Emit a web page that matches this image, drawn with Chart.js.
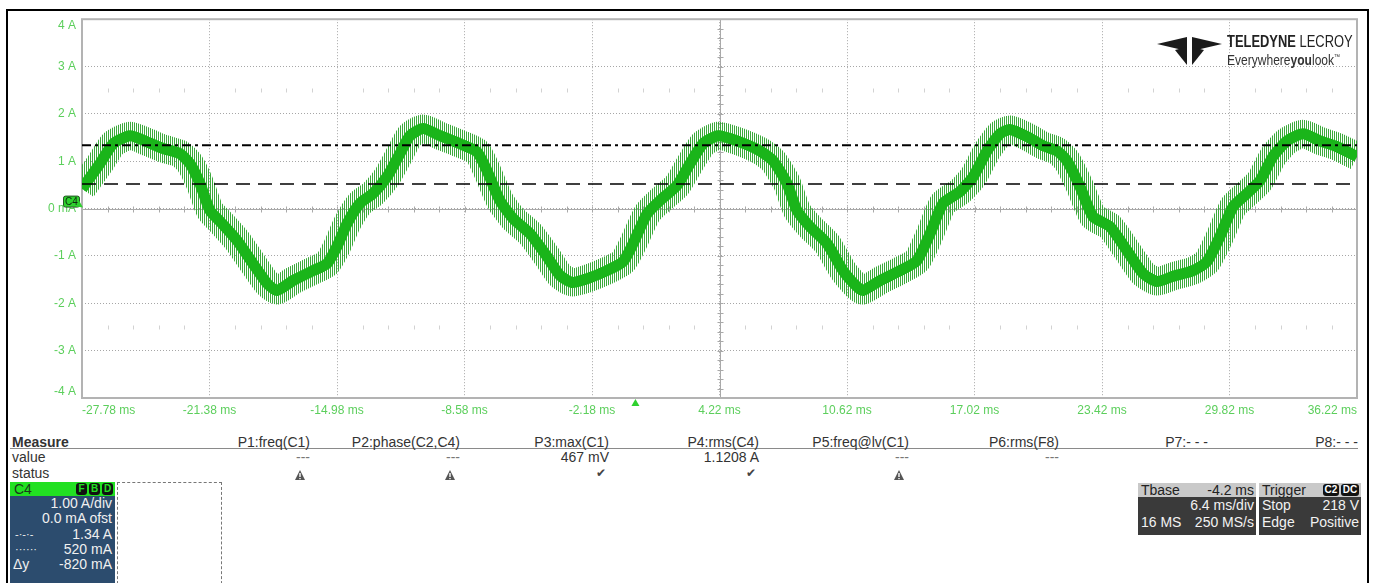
<!DOCTYPE html>
<html>
<head>
<meta charset="utf-8">
<script src="https://cdn.jsdelivr.net/npm/chart.js@4.4.0/dist/chart.umd.min.js"></script>
<style>
  body { margin: 0; background: #fff; width: 1373px; height: 583px; overflow: hidden; position: relative;
         font-family: "Liberation Sans", Arial, sans-serif; }
  #frame { position: absolute; left: 6px; top: 9px; width: 1359px; height: 600px; border: 2px solid #000; }
  #wrap { position: absolute; left: 0; top: 0; width: 1373px; height: 425px; }
  .t { position: absolute; white-space: nowrap; color: #333; font-size: 14px; line-height: 16px; }
  .r { text-align: right; }
  #rule { position: absolute; left: 10px; top: 448px; width: 1348px; height: 1px; background: #8a8a8a; }
  #c4 { position: absolute; left: 10px; top: 482px; width: 105px; height: 110px; background: #2c4c6e; }
  #c4 .head { height: 14px; background: #22e022; position: relative; }
  #c4 .row { position: relative; height: 15.3px; color: #f0f0f0; font-size: 14px; line-height: 15px; }
  #c4 .row span { position: absolute; }
  .badge { position: absolute; top: 1px; width: 11px; height: 12px; background: #111; color: #22e022;
           border-radius: 3px; font-size: 10px; line-height: 12px; text-align: center; font-weight: bold; }
  #dash { position: absolute; left: 117px; top: 482px; width: 103px; height: 110px; border: 1px dashed #777; }
  .box { position: absolute; top: 483px; height: 52px; background: #3a3a3a; color: #f2f2f2; font-size: 14px; }
  .box .top { height: 14px; background: #c9c9c9; color: #222; position: relative; }
  .box .ln { position: relative; height: 16.5px; }
  .box span { position: absolute; line-height: 15px; white-space: nowrap; }
  .kb { position: absolute; top: 1px; height: 12px; background: #111; color: #fff; border-radius: 3px;
        font-size: 10px; line-height: 12px; text-align: center; font-weight: bold; }
  #logo { position: absolute; left: 1157px; top: 36px; }
  #brand { position: absolute; left: 1227px; top: 33px; font-size: 17px; line-height: 18px; color: #222;
           transform: scaleX(0.76); transform-origin: left top; white-space: nowrap; }
  #tag { position: absolute; left: 1227px; top: 50px; font-size: 14px; line-height: 14px; color: #333;
         transform: scaleX(0.86); transform-origin: left top; white-space: nowrap; }
</style>
</head>
<body>
<div id="frame"></div>
<div id="wrap"><canvas id="scope" width="1373" height="425"></canvas></div>

<svg id="logo" width="66" height="30" viewBox="0 0 66 30">
  <polygon points="0,8 30,1 30,15" fill="#1b1b1b"/>
  <polygon points="35,1 65,8 35,15" fill="#1b1b1b"/>
  <polygon points="18,14 30,11 30,29" fill="#1b1b1b"/>
  <polygon points="35,11 47,14 35,29" fill="#1b1b1b"/>
</svg>
<div id="brand"><b>TELEDYNE</b> LECROY</div>
<div id="tag">Everywhere<b>you</b>look<sup style="font-size:7px">™</sup></div>

<div class="t" style="left:12px;top:434px;font-weight:bold;">Measure</div>
<div id="rule"></div>
<div class="t" style="left:12px;top:449px;">value</div>
<div class="t" style="left:12px;top:465px;">status</div>
<div id="measure"></div>

<div id="c4">
  <div class="head">
    <span class="t" style="left:4px;top:-1px;color:#1a3a1a;font-size:14px;">C4</span>
    <div class="badge" style="left:66px;">F</div>
    <div class="badge" style="left:79px;">B</div>
    <div class="badge" style="left:92px;">D</div>
  </div>
  <div class="row"><span style="right:3px;">1.00 A/div</span></div>
  <div class="row"><span style="right:3px;">0.0 mA ofst</span></div>
  <div class="row"><span style="left:5px;font-size:11px;">-·-·-</span><span style="right:3px;">1.34 A</span></div>
  <div class="row"><span style="left:5px;font-size:11px;">······</span><span style="right:3px;">520 mA</span></div>
  <div class="row"><span style="left:3px;">Δy</span><span style="right:3px;">-820 mA</span></div>
</div>
<div id="dash"></div>

<div class="box" style="left:1138px;width:118px;">
  <div class="top"><span style="left:3px;">Tbase</span><span style="right:2px;">-4.2 ms</span></div>
  <div class="ln"><span style="right:2px;top:1px;">6.4 ms/div</span></div>
  <div class="ln"><span style="left:3px;top:1px;">16 MS</span><span style="right:2px;top:1px;">250 MS/s</span></div>
</div>
<div class="box" style="left:1259px;width:102px;">
  <div class="top"><span style="left:3px;">Trigger</span>
    <div class="kb" style="left:64px;width:16px;">C2</div><div class="kb" style="left:82px;width:18px;">DC</div></div>
  <div class="ln"><span style="left:3px;top:1px;">Stop</span><span style="right:2px;top:1px;">218 V</span></div>
  <div class="ln"><span style="left:3px;top:1px;">Edge</span><span style="right:2px;top:1px;">Positive</span></div>
</div>

<script>
// C4 trace (time in ms, current in A)
const timeMs = [
  -27.78, -26.88, -26.22, -25.37, -24.52, -23.71, -22.86, -22.36, -21.86, -21.36,
  -20.85, -20.00, -19.20, -18.49, -17.99, -17.19, -16.18, -15.48, -14.98, -14.48,
  -13.83, -13.17, -12.47, -11.82, -11.32, -10.66, -9.81, -8.81, -7.95, -7.45,
  -6.80, -6.14, -5.29, -4.44, -3.79, -3.18, -2.43, -1.43, -0.62, -0.12,
  0.58, 1.23, 2.09, 2.74, 3.39, 4.15, 5.10, 6.25, 6.91, 7.61,
  8.11, 8.76, 9.62, 10.42, 11.12, 11.42, 12.28, 13.28, 14.13, 14.79,
  15.44, 16.29, 16.95, 17.65, 18.30, 18.80, 19.66, 20.46, 21.16, 21.66,
  22.32, 22.97, 23.82, 24.68, 25.48, 26.18, 26.98, 27.99, 28.69, 29.34,
  30.00, 30.70, 31.35, 32.00, 32.71, 33.51, 34.36, 35.21, 36.22
];
const currentA = [
  0.42, 0.95, 1.37, 1.54, 1.41, 1.27, 1.16, 0.95, 0.53, -0.04,
  -0.27, -0.67, -1.16, -1.58, -1.73, -1.52, -1.31, -1.16, -0.80, -0.32,
  0.11, 0.32, 0.67, 1.16, 1.54, 1.69, 1.54, 1.37, 1.20, 0.80,
  0.17, -0.21, -0.53, -1.01, -1.41, -1.56, -1.48, -1.31, -1.12, -0.74,
  -0.11, 0.17, 0.49, 0.95, 1.37, 1.54, 1.43, 1.22, 1.01, 0.53,
  -0.04, -0.38, -0.74, -1.31, -1.65, -1.73, -1.52, -1.31, -1.10, -0.53,
  0.11, 0.36, 0.67, 1.22, 1.58, 1.67, 1.52, 1.33, 1.22, 1.01,
  0.46, -0.17, -0.38, -0.89, -1.37, -1.54, -1.43, -1.31, -1.12, -0.59,
  0.04, 0.32, 0.59, 1.10, 1.43, 1.58, 1.43, 1.31, 1.10
];
const xTickValues = [-27.78, -21.38, -14.98, -8.58, -2.18, 4.22, 10.62, 17.02, 23.42, 29.82, 36.22];
const yTickValues = [-4, -3, -2, -1, 0, 1, 2, 3, 4];
const yTickLabels = ["-4 A", "-3 A", "-2 A", "-1 A", "0 mA", "1 A", "2 A", "3 A", "4 A"];
const cursorLevels = [1.34, 0.52];   // dash-dot, dashed
const triggerTime = 0;

const measureNames = ["P1:freq(C1)", "P2:phase(C2,C4)", "P3:max(C1)", "P4:rms(C4)",
                      "P5:freq@lv(C1)", "P6:rms(F8)", "P7:- - -", "P8:- - -"];
const measureValues = ["---", "---", "467 mV", "1.1208 A", "---", "---", "", ""];
const measureStatus = ["warn", "warn", "ok", "ok", "warn", "", "", ""];

// measurement table
const warnSvg = '<svg width="10" height="10" viewBox="0 0 10 10"><path d="M5 0L10 10H0Z" fill="#555"/>' +
  '<rect x="4.3" y="3" width="1.4" height="4" fill="#fff"/><rect x="4.3" y="8" width="1.4" height="1.2" fill="#fff"/></svg>';
let html = "";
measureNames.forEach((name, i) => {
  const right = 1373 - Math.round(310 + 149.7 * i);
  html += `<div class="t r" style="right:${right}px;top:434px;">${name}</div>`;
  if (measureValues[i]) {
    const col = measureValues[i] === "---" ? "#777" : "#333";
    html += `<div class="t r" style="right:${right}px;top:449px;color:${col};">${measureValues[i]}</div>`;
  }
  if (measureStatus[i] === "warn") {
    html += `<div class="t" style="right:${right + 5}px;top:467px;">${warnSvg}</div>`;
  } else if (measureStatus[i] === "ok") {
    html += `<div class="t" style="right:${right + 3}px;top:465px;font-family:'DejaVu Sans';font-size:12px;color:#444;">✔</div>`;
  }
});
document.getElementById("measure").innerHTML = html;

// vertical ripple hatching used for the wide trace band
const pc = document.createElement("canvas");
pc.width = 2; pc.height = 1;
const pg = pc.getContext("2d");
pg.fillStyle = "rgba(50,165,50,0.95)";
pg.fillRect(0, 0, 1, 1);
const ripple = pg.createPattern(pc, "repeat");

const tracePts = timeMs.map((t, i) => ({ x: t, y: currentA[i] }));
const xMin = xTickValues[0], xMax = xTickValues[xTickValues.length - 1];

const graticule = {
  id: "graticule",
  beforeDatasetsDraw(chart) {
    const { ctx, chartArea: a, scales: { x, y } } = chart;
    const xDiv = x.getPixelForValue(xTickValues[1]) - x.getPixelForValue(xTickValues[0]);
    const yDiv = y.getPixelForValue(0) - y.getPixelForValue(1);
    const xc = Math.round(x.getPixelForValue(xTickValues[5])) + 0.5;
    const y0 = Math.round(y.getPixelForValue(0)) + 0.5;
    ctx.save();
    // faint minor marks
    ctx.strokeStyle = "#d2d2d2";
    ctx.lineWidth = 1;
    [2.5, -2.5].forEach(v => {
      const yy = Math.round(y.getPixelForValue(v)) + 0.5;
      for (let k = 1; k < 50; k++) {
        if (k % 5 === 0) continue;
        const xx = Math.round(a.left + k * xDiv / 5) + 0.5;
        ctx.beginPath(); ctx.moveTo(xx, yy - 2); ctx.lineTo(xx, yy + 2); ctx.stroke();
      }
    });
    // centre cross with ticks
    ctx.strokeStyle = "#a9a9a9";
    ctx.beginPath();
    ctx.moveTo(a.left, y0); ctx.lineTo(a.right, y0);
    ctx.moveTo(xc, a.top); ctx.lineTo(xc, a.bottom);
    for (let k = 1; k < 50; k++) {
      const xx = Math.round(a.left + k * xDiv / 5) + 0.5;
      ctx.moveTo(xx, y0 - 3); ctx.lineTo(xx, y0 + 3);
    }
    for (let k = 1; k < 40; k++) {
      const yy = Math.round(a.top + k * yDiv / 5) + 0.5;
      ctx.moveTo(xc - 3, yy); ctx.lineTo(xc + 3, yy);
    }
    ctx.stroke();
    // frame
    ctx.strokeStyle = "#b3b3b3";
    ctx.lineWidth = 2;
    ctx.strokeRect(a.left, a.top, a.width, a.height);
    ctx.restore();
  },
  afterDraw(chart) {
    const { ctx, chartArea: a, scales: { x, y } } = chart;
    const y0 = y.getPixelForValue(0);
    ctx.save();
    // channel marker
    ctx.fillStyle = "#2ed12e";
    ctx.strokeStyle = "#245524";
    ctx.lineWidth = 1;
    ctx.beginPath();
    ctx.roundRect(a.left - 18.5, y0 - 12.5, 16, 11, 2);
    ctx.fill(); ctx.stroke();
    ctx.beginPath();
    ctx.moveTo(a.left - 3, y0 - 8); ctx.lineTo(a.left + 1, y0 - 1); ctx.lineTo(a.left - 6, y0 - 2);
    ctx.closePath(); ctx.fill();
    ctx.fillStyle = "#0d2a0d";
    ctx.font = "10px 'Liberation Sans', Arial";
    ctx.textAlign = "center"; ctx.textBaseline = "middle";
    ctx.fillText("C4", a.left - 10.5, y0 - 6.5);
    // trigger position arrow
    const xt = x.getPixelForValue(triggerTime);
    ctx.fillStyle = "#2ed12e";
    ctx.beginPath();
    ctx.moveTo(xt, a.bottom + 1); ctx.lineTo(xt + 4, a.bottom + 8); ctx.lineTo(xt - 4, a.bottom + 8);
    ctx.closePath(); ctx.fill();
    ctx.restore();
  }
};

Chart.defaults.font.family = "'Liberation Sans', Arial, sans-serif";

// outermost y labels sit inside the graticule, like on the scope screen
function yLabel(v) {
  const s = yTickLabels[yTickValues.indexOf(v)];
  if (v === yTickValues[yTickValues.length - 1]) return ["", s];
  if (v === yTickValues[0]) return [s, ""];
  return s;
}

new Chart(document.getElementById("scope"), {
  type: "line",
  data: {
    datasets: [
      { data: [{ x: xMin, y: cursorLevels[0] }, { x: xMax, y: cursorLevels[0] }],
        borderColor: "#000", borderWidth: 2, borderDash: [9, 4, 3, 4], order: 0 },
      { data: [{ x: xMin, y: cursorLevels[1] }, { x: xMax, y: cursorLevels[1] }],
        borderColor: "#000", borderWidth: 1.5, borderDash: [14, 8], order: 0 },
      { data: tracePts, borderColor: "#1ab51a", borderWidth: 11, tension: 0.2,
        borderJoinStyle: "round", order: 1 },
      { data: tracePts, borderColor: ripple, borderWidth: 28, tension: 0.2,
        borderJoinStyle: "round", order: 2 }
    ]
  },
  options: {
    responsive: false,
    animation: false,
    layout: { padding: { top: 19, right: 16, left: 0, bottom: 0 } },
    plugins: { legend: { display: false }, tooltip: { enabled: false } },
    elements: { point: { radius: 0 } },
    scales: {
      x: {
        type: "linear", min: xMin, max: xMax,
        afterBuildTicks: s => { s.ticks = xTickValues.map(v => ({ value: v })); },
        afterFit: s => { s.height = 27; },
        grid: { color: "#a6a6a6", drawTicks: false, lineWidth: 1 },
        border: { display: false, dash: [1, 2] },
        ticks: { align: "inner", padding: 5, color: "#5ccf5c", font: { size: 12 },
                 maxRotation: 0, autoSkip: false, callback: v => v.toFixed(2) + " ms" }
      },
      y: {
        min: -4, max: 4,
        afterBuildTicks: s => { s.ticks = yTickValues.map(v => ({ value: v })); },
        afterFit: s => { s.width = 82; },
        grid: { color: "#a6a6a6", drawTicks: false, lineWidth: 1 },
        border: { display: false, dash: [1, 2] },
        ticks: { padding: 6, color: "#5ccf5c", font: { size: 12, lineHeight: 1.1 }, callback: yLabel }
      }
    }
  },
  plugins: [graticule]
});
</script>
</body>
</html>
